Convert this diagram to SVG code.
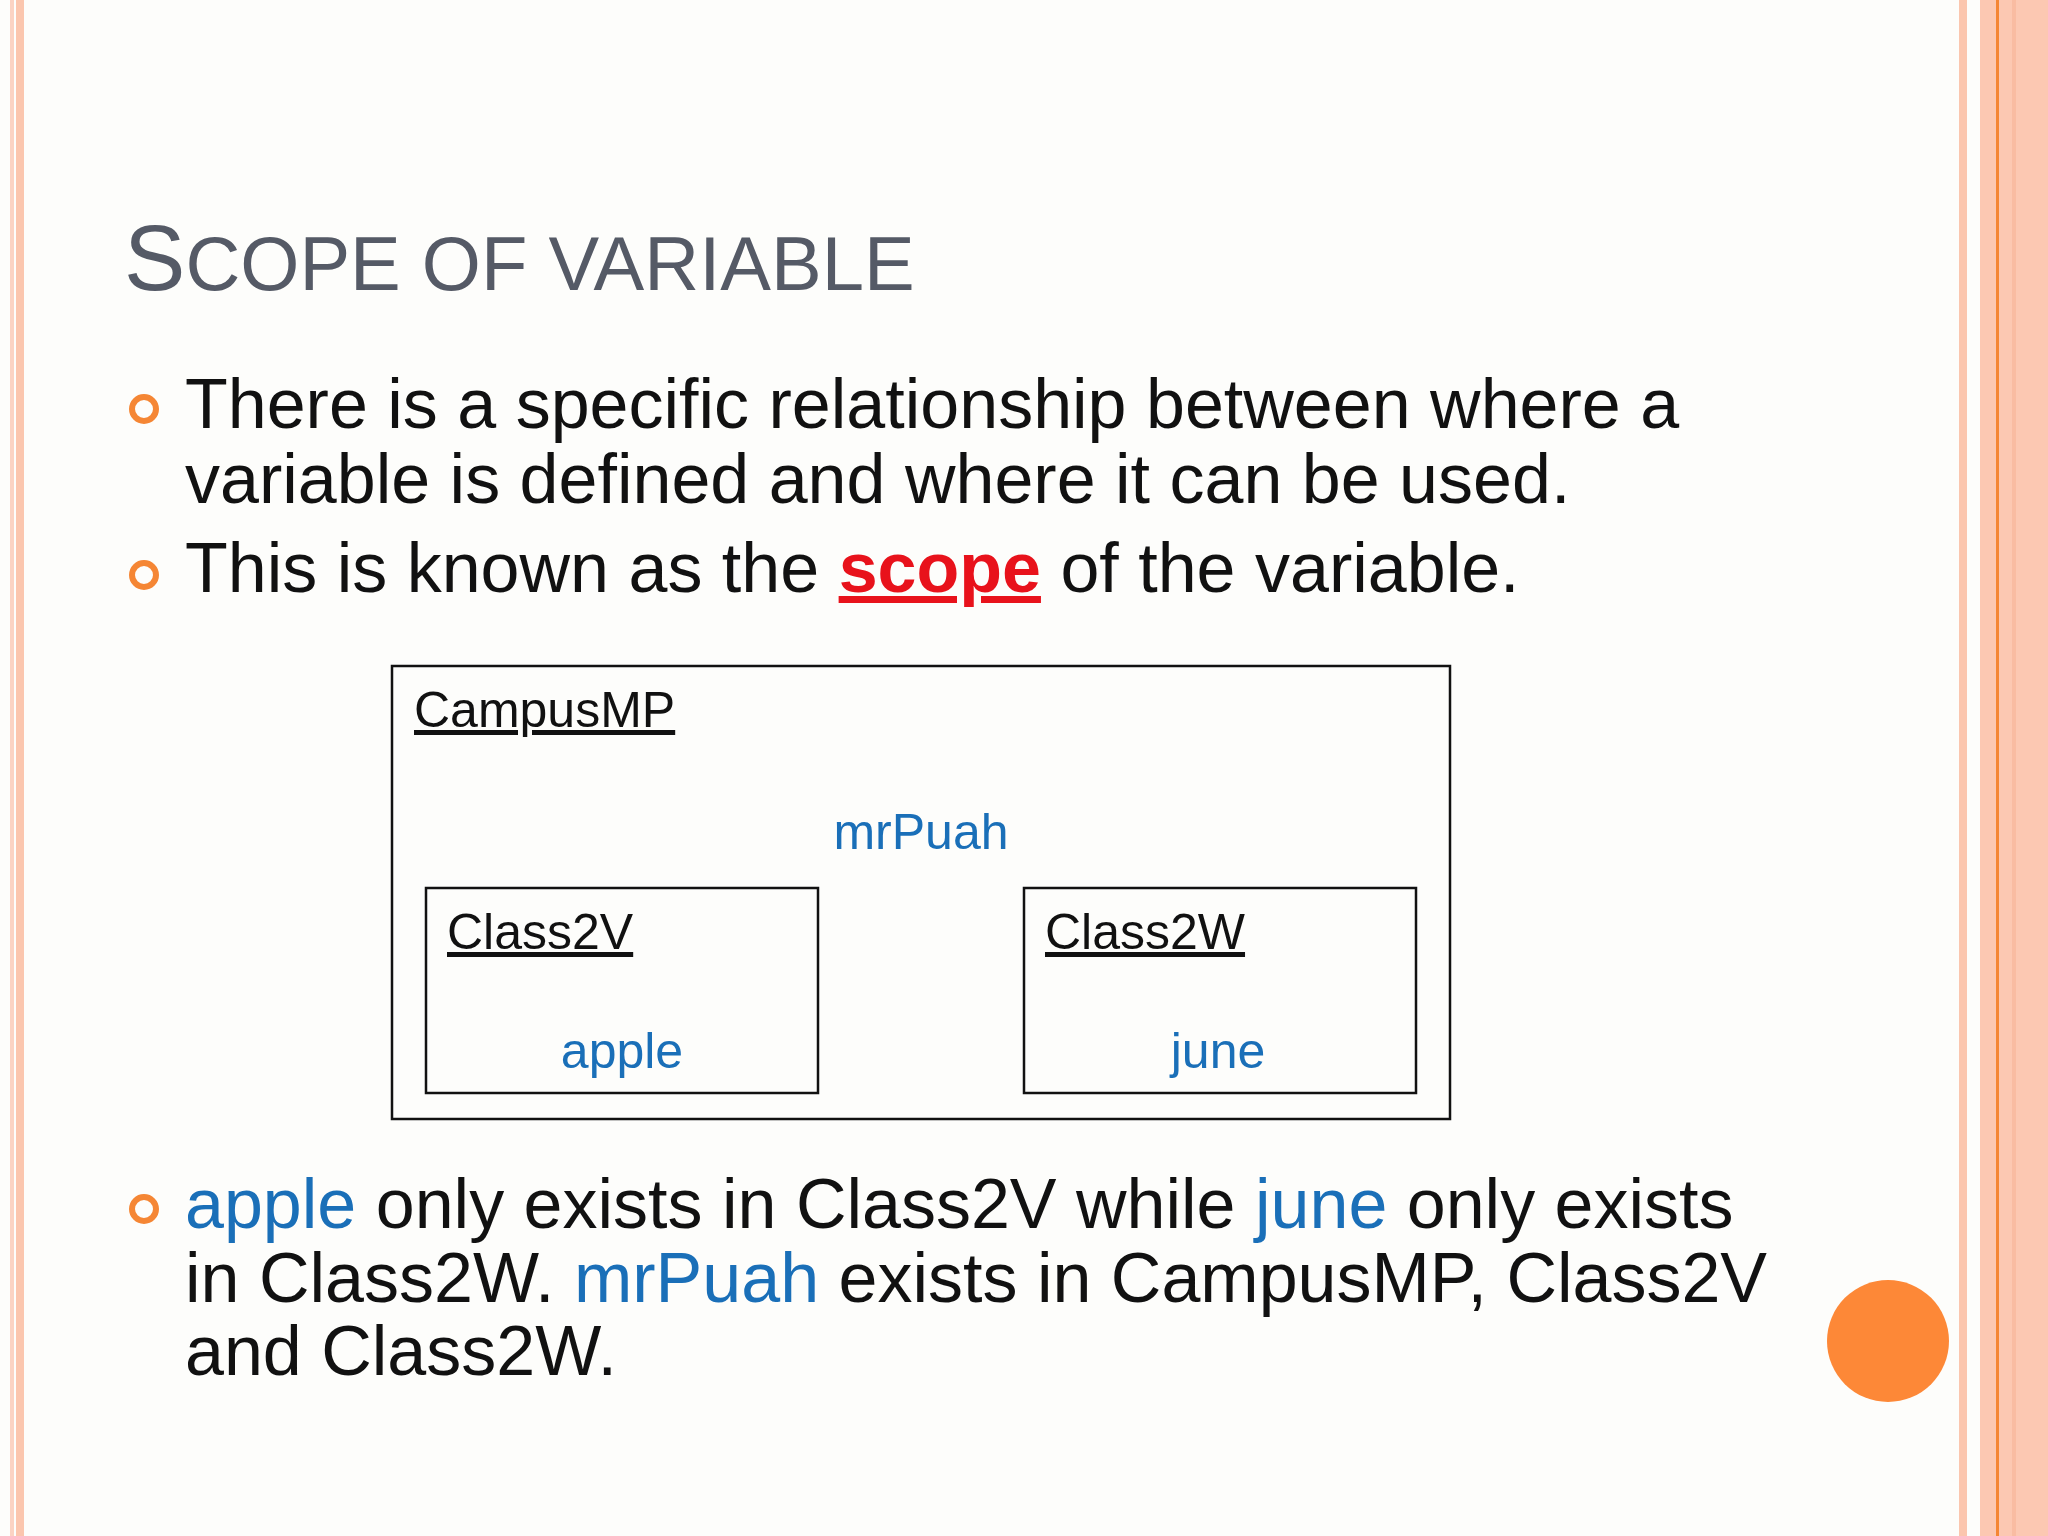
<svg xmlns="http://www.w3.org/2000/svg" width="2048" height="1536" viewBox="0 0 2048 1536" xml:space="preserve">
<style>
.t{font-family:"Liberation Sans",Arial,sans-serif;fill:#111}
.b{font-size:70px}
.bl{fill:#1a6fb8}
.s{font-size:50px}
.box{fill:none;stroke:#111;stroke-width:2.5}
.bul{fill:none;stroke:#f58634;stroke-width:6}
</style>
<rect width="2048" height="1536" fill="#fdfdfb"/>
<rect x="10" y="0" width="4" height="1536" fill="#fbd3c3"/>
<rect x="16" y="0" width="8" height="1536" fill="#fbc6ae"/>
<rect x="1959" y="0" width="8" height="1536" fill="#fbc6ae"/>
<rect x="1980" y="0" width="68" height="1536" fill="#fcc8b2"/>
<rect x="1996" y="0" width="3" height="1536" fill="#f58634"/>
<rect x="2012" y="0" width="4" height="1536" fill="#f9bca2"/>
<circle cx="1888" cy="1341" r="61" fill="#fd8837"/>
<text class="t" x="124" y="290" style="fill:#555a66;font-size:76px"><tspan style="font-size:92px">S</tspan>COPE OF VARIABLE</text>
<g id="bullets">
<circle class="bul" cx="144" cy="409" r="12"/>
<circle class="bul" cx="144" cy="575" r="12"/>
<circle class="bul" cx="144" cy="1209" r="12"/>
<text class="t b" x="185" y="428">There is a specific relationship between where a</text>
<text class="t b" x="185" y="503">variable is defined and where it can be used.</text>
<text class="t b" x="185" y="592">This is known as the <tspan style="fill:#e8121b;font-weight:bold;text-decoration:underline">scope</tspan>  of the variable.</text>
<text class="t b" x="185" y="1228"><tspan class="bl">apple</tspan> only exists in Class2V while <tspan class="bl">june</tspan> only exists</text>
<text class="t b" x="185" y="1302">in Class2W.  <tspan class="bl">mrPuah</tspan> exists in CampusMP, Class2V</text>
<text class="t b" x="185" y="1375">and Class2W.</text>
</g>
<g id="CampusMP">
<rect class="box" x="392" y="666" width="1058" height="453"/>
<text class="t s" x="414" y="727" style="text-decoration:underline">CampusMP</text>
<text class="t s bl" x="921" y="849" text-anchor="middle">mrPuah</text>
</g>
<g id="Class2V">
<rect class="box" x="426" y="888" width="392" height="205"/>
<text class="t s" x="447" y="949" style="text-decoration:underline">Class2V</text>
<text class="t s bl" x="622" y="1068" text-anchor="middle">apple</text>
</g>
<g id="Class2W">
<rect class="box" x="1024" y="888" width="392" height="205"/>
<text class="t s" x="1045" y="949" style="text-decoration:underline">Class2W</text>
<text class="t s bl" x="1218" y="1068" text-anchor="middle">june</text>
</g>
<g id="connectors"/>
</svg>
